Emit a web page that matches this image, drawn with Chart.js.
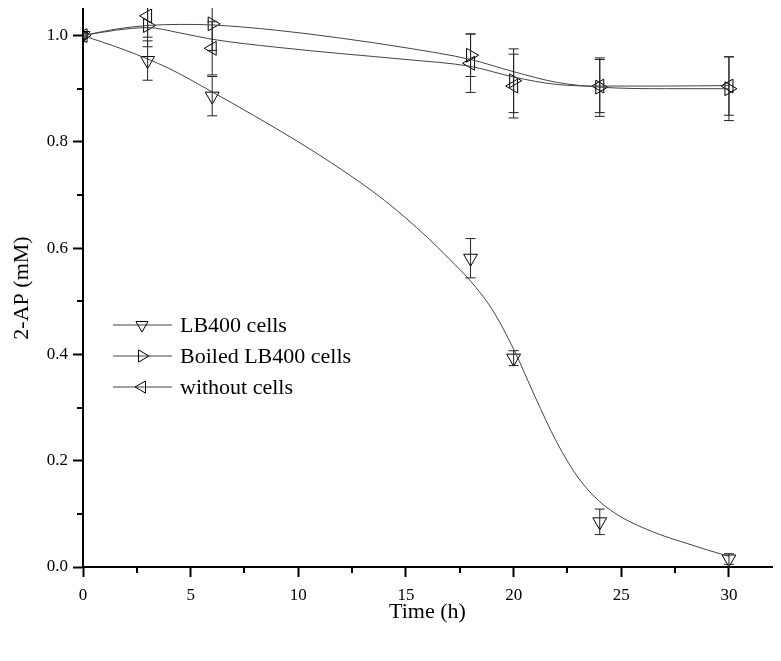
<!DOCTYPE html>
<html>
<head>
<meta charset="utf-8">
<script src="https://cdn.jsdelivr.net/npm/chart.js@4.4.1/dist/chart.umd.min.js"></script>
<style>
  html, body { margin: 0; padding: 0; background: #fff; }
  #wrap { width: 781px; height: 661px; }
</style>
</head>
<body>
<div id="wrap"><canvas id="apChart" width="781" height="661"></canvas></div>
<script>
// measured points (time in h, 2-AP in mM) and error bars
const time = [0, 3, 6, 18, 20, 24, 30];
const lb400 = [1.0, 0.953, 0.886, 0.581, 0.393, 0.085, 0.015];
const lb400Err = [0.005, 0.037, 0.037, 0.037, 0.014, 0.024, 0.01];
const boiled = [1.0, 1.019, 1.022, 0.963, 0.915, 0.903, 0.900];
const boiledErr = [0.005, 0.04, 0.05, 0.04, 0.06, 0.055, 0.06];
const without = [1.0, 1.037, 0.976, 0.948, 0.905, 0.905, 0.905];
const withoutErr = [0.005, 0.04, 0.05, 0.055, 0.06, 0.05, 0.055];

// fitted curves
const lbCurveT = [0, 2, 4, 6, 8, 10, 12, 14, 16, 17, 18, 19, 20, 21, 22, 23, 24, 25, 26, 27, 28, 29, 30];
const lbCurve = [1.0, 0.972, 0.938, 0.894, 0.848, 0.80, 0.748, 0.69, 0.62, 0.58, 0.538, 0.485, 0.41, 0.32, 0.235, 0.168, 0.123, 0.094, 0.074, 0.058, 0.045, 0.032, 0.02];
const flatCurveT = [0, 1.5, 3, 4.5, 6, 9, 12, 15, 18, 20, 22, 24, 27, 30];
const boiledCurve = [1.0, 1.012, 1.019, 1.021, 1.02, 1.01, 0.995, 0.977, 0.955, 0.932, 0.912, 0.903, 0.900, 0.900];
const withoutCurve = [1.0, 1.01, 1.015, 1.005, 0.993, 0.978, 0.966, 0.955, 0.942, 0.922, 0.908, 0.905, 0.905, 0.906];

const xTicks = [0, 5, 10, 15, 20, 25, 30];
const xMinor = [2.5, 7.5, 12.5, 17.5, 22.5, 27.5];
const yTicks = [0, 0.2, 0.4, 0.6, 0.8, 1.0];
const yMinor = [0.1, 0.3, 0.5, 0.7, 0.9];

const seriesNames = ["LB400 cells", "Boiled LB400 cells", "without cells"];
const FONT = "'Liberation Serif', 'Times New Roman', serif";

const pts = (xs, ys) => xs.map((x, i) => ({ x: x, y: ys[i] }));

function triangle(ctx, x, y, r, rotDeg) {
    let rad = rotDeg * Math.PI / 180;
    ctx.beginPath();
    for (let k = 0; k < 3; k++) {
        const px = x + Math.sin(rad) * r, py = y - Math.cos(rad) * r;
        if (k === 0) ctx.moveTo(px, py); else ctx.lineTo(px, py);
        rad += 2 * Math.PI / 3;
    }
    ctx.closePath();
    ctx.stroke();
}

function markerSet(label, ys, rot, errs) {
    return {
        label: label,
        data: pts(time, ys),
        errors: errs,
        showLine: false,
        pointStyle: "triangle",
        rotation: rot,
        pointRadius: 8,
        pointHoverRadius: 8,
        pointBorderWidth: 1,
        borderColor: "#000",
        backgroundColor: "rgba(0,0,0,0)"
    };
}

function curveSet(xs, ys) {
    return {
        label: "",
        data: pts(xs, ys),
        showLine: true,
        cubicInterpolationMode: "monotone",
        pointRadius: 0,
        borderWidth: 1,
        borderColor: "#444"
    };
}

// error bars with caps, clipped to the plot area
const errorBars = {
    id: "errorBars",
    afterDatasetsDraw(chart) {
        const { ctx, chartArea, scales } = chart;
        ctx.save();
        ctx.beginPath();
        ctx.rect(chartArea.left, chartArea.top - 1, chartArea.right - chartArea.left, chartArea.bottom - chartArea.top + 1);
        ctx.clip();
        ctx.strokeStyle = "#222";
        ctx.lineWidth = 1;
        chart.data.datasets.forEach(ds => {
            if (!ds.errors) return;
            ds.data.forEach((p, i) => {
                const e = ds.errors[i];
                const x = scales.x.getPixelForValue(p.x);
                const y1 = scales.y.getPixelForValue(p.y + e);
                const y2 = scales.y.getPixelForValue(p.y - e);
                ctx.beginPath();
                ctx.moveTo(x, y1); ctx.lineTo(x, y2);
                ctx.moveTo(x - 5, y1); ctx.lineTo(x + 5, y1);
                ctx.moveTo(x - 5, y2); ctx.lineTo(x + 5, y2);
                ctx.stroke();
            });
        });
        ctx.restore();
    }
};

// minor ticks + legend drawn by hand
const extras = {
    id: "extras",
    afterDraw(chart) {
        const { ctx, chartArea, scales } = chart;
        ctx.save();
        ctx.strokeStyle = "#000";
        ctx.lineWidth = 2;
        ctx.beginPath();
        xMinor.forEach(v => {
            const x = Math.round(scales.x.getPixelForValue(v));
            ctx.moveTo(x, chartArea.bottom); ctx.lineTo(x, chartArea.bottom + 6);
        });
        yMinor.forEach(v => {
            const y = Math.round(scales.y.getPixelForValue(v));
            ctx.moveTo(chartArea.left, y); ctx.lineTo(chartArea.left - 6, y);
        });
        ctx.stroke();

        const rots = [180, 90, 270];
        const rowY = [325, 356, 387];
        ctx.font = "22px " + FONT;
        ctx.textBaseline = "middle";
        ctx.fillStyle = "#000";
        seriesNames.forEach((name, i) => {
            ctx.strokeStyle = "#444";
            ctx.lineWidth = 1;
            ctx.beginPath();
            ctx.moveTo(113, rowY[i]); ctx.lineTo(172, rowY[i]);
            ctx.stroke();
            ctx.strokeStyle = "#000";
            triangle(ctx, 142, rowY[i], 7, rots[i]);
            ctx.fillText(name, 180, rowY[i] + 1);
        });
        ctx.restore();
    }
};

const axisCommon = {
    border: { display: true, color: "#000", width: 2 },
    grid: { display: true, drawOnChartArea: false, drawTicks: true, tickLength: 10, tickWidth: 2, tickColor: "#000" }
};

new Chart(document.getElementById("apChart"), {
    type: "scatter",
    data: {
        datasets: [
            curveSet(lbCurveT, lbCurve),
            curveSet(flatCurveT, boiledCurve),
            curveSet(flatCurveT, withoutCurve),
            markerSet(seriesNames[0], lb400, 180, lb400Err),
            markerSet(seriesNames[1], boiled, 90, boiledErr),
            markerSet(seriesNames[2], without, 270, withoutErr)
        ]
    },
    options: {
        responsive: false,
        animation: false,
        layout: { padding: { left: 0, right: 5, top: 4, bottom: 0 } },
        plugins: {
            legend: { display: false },
            tooltip: { enabled: false }
        },
        scales: {
            x: {
                type: "linear",
                min: 0,
                max: 32,
                ...axisCommon,
                afterBuildTicks: s => { s.ticks = xTicks.map(v => ({ value: v })); },
                afterFit: s => { s.height = 94; s.paddingLeft = 0; s.paddingRight = 0; },
                ticks: {
                    color: "#000",
                    padding: 8,
                    font: { family: FONT, size: 17 },
                    callback: v => String(v)
                },
                title: {
                    display: true,
                    text: "Time (h)",
                    color: "#000",
                    font: { family: FONT, size: 22 },
                    padding: { top: 4, bottom: 36 }
                }
            },
            y: {
                type: "linear",
                min: 0,
                max: 1.05,
                ...axisCommon,
                afterBuildTicks: s => { s.ticks = yTicks.map(v => ({ value: v })); },
                afterFit: s => { s.width = 83; s.paddingTop = 0; s.paddingBottom = 0; },
                ticks: {
                    color: "#000",
                    padding: 5,
                    font: { family: FONT, size: 17 },
                    callback: v => Number(v).toFixed(1)
                },
                title: {
                    display: true,
                    text: "2-AP (mM)",
                    color: "#000",
                    font: { family: FONT, size: 22 },
                    padding: { top: 9, bottom: 0 }
                }
            }
        }
    },
    plugins: [errorBars, extras]
});
</script>
</body>
</html>
